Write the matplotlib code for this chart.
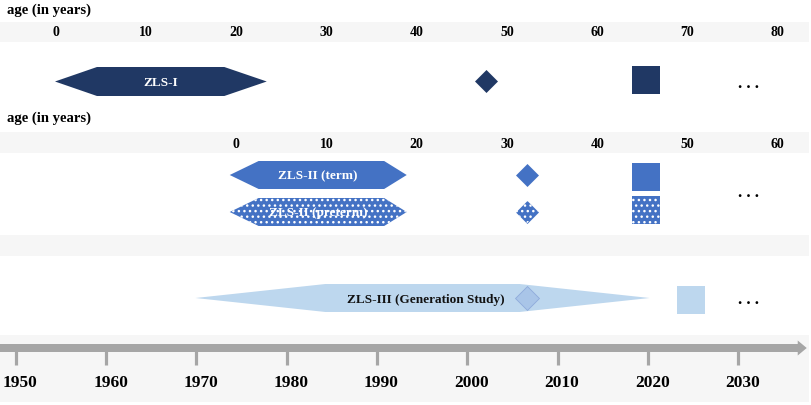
import matplotlib
matplotlib.use("Agg")
import matplotlib.pyplot as plt
from matplotlib.patches import Polygon, FancyArrow, Rectangle

plt.rcParams["font.family"] = ["Liberation Serif", "DejaVu Serif"]
plt.rcParams["hatch.color"] = "white"
plt.rcParams["hatch.linewidth"] = 1.0

# calendar axis
YEARS = [1950, 1960, 1970, 1980, 1990, 2000, 2010, 2020, 2030]

# age axes (age 0 = birth year of the cohort)
AGES_I = [0, 10, 20, 30, 40, 50, 60, 70, 80]
BIRTH_I = 1954.4
AGES_II = [0, 10, 20, 30, 40, 50, 60]
BIRTH_II = 1974.4

# cohort spans: (start, full start, full end, end) in calendar years
SPAN_I = (1954.35, 1959.0, 1973.1, 1977.8)
SPAN_II = (1973.7, 1976.9, 1990.8, 1993.3)
SPAN_III = (1969.9, 1984.3, 2005.8, 2020.2)

# follow-up waves
DIAMOND_YEARS = [2002.1, 2006.6, 2006.6, 2006.6]
SQUARE_YEARS = [2019.8, 2019.8, 2019.8, 2024.8]
MORE_YEAR = 2031.1

NAVY = "#203864"
BLUE = "#4472c4"
LIGHT = "#bdd7ee"
GREY = "#a6a6a6"
BAND = "#f6f6f6"

fig = plt.figure(figsize=(8.11, 4.06), dpi=100)
ax = fig.add_axes([0, 0, 1, 1])
ax.set_xlim(1948.26, 2038.07)
ax.set_ylim(406, 0)
ax.axis("off")

X0, X1 = 1948.26, 2038.07


def band(y0, y1):
    ax.add_patch(Rectangle((X0, y0), X1 - X0 - 0.2, y1 - y0, color=BAND, lw=0, zorder=0))


def hexagon(span, yc, color, half=14.5, **kw):
    a, b, c, d = span
    pts = [(a, yc), (b, yc - half), (c, yc - half), (d, yc), (c, yc + half), (b, yc + half)]
    p = Polygon(pts, closed=True, **kw)
    if "facecolor" not in kw and "fc" not in kw:
        p.set_facecolor(color)
    ax.add_patch(p)
    return p


def ellipsis(x, y):
    ax.text(x, y, ". . .", ha="center", va="baseline", fontsize=12, fontweight="bold", color="black")


# bands
band(23, 43)
band(133, 154)
band(236, 257)
band(336, 403)

# age headers
ax.text(1949.0, 10, "age (in years)", ha="left", va="center", fontsize=10.5, fontweight="bold")
ax.text(1949.0, 118, "age (in years)", ha="left", va="center", fontsize=10.5, fontweight="bold")
for a in AGES_I:
    ax.text(BIRTH_I + a, 33, str(a), ha="center", va="center", fontsize=10, fontweight="bold")
for a in AGES_II:
    ax.text(BIRTH_II + a, 145, str(a), ha="center", va="center", fontsize=10, fontweight="bold")

# ZLS-I
hexagon(SPAN_I, 82.5, NAVY, lw=0)
ax.text((SPAN_I[0] + SPAN_I[3]) / 2, 83, "ZLS-I", ha="center", va="center",
        color="white", fontsize=9.5, fontweight="bold")
ax.scatter([DIAMOND_YEARS[0]], [82], marker="D", s=11.7 ** 2, color=NAVY, lw=0, zorder=3)
ax.scatter([SQUARE_YEARS[0]], [81], marker="s", s=20 ** 2, color=NAVY, lw=0, zorder=3)
ellipsis(MORE_YEAR, 88.5)

# ZLS-II term
hexagon(SPAN_II, 176, BLUE, half=14, lw=0)
ax.text((SPAN_II[0] + SPAN_II[3]) / 2, 176.5, "ZLS-II (term)", ha="center", va="center",
        color="white", fontsize=9.5, fontweight="bold")
ax.scatter([DIAMOND_YEARS[1]], [176], marker="D", s=11.7 ** 2, color=BLUE, lw=0, zorder=3)
ax.scatter([SQUARE_YEARS[1]], [177.5], marker="s", s=20.5 ** 2, color=BLUE, lw=0, zorder=3)

# ZLS-II preterm (dotted)
hexagon(SPAN_II, 213, BLUE, half=14, lw=0, zorder=1)
ax.text((SPAN_II[0] + SPAN_II[3]) / 2, 213.5, "ZLS-II (preterm)", ha="center", va="center",
        color="white", fontsize=9.5, fontweight="bold", zorder=2)
hexagon(SPAN_II, 213, BLUE, half=14, facecolor="none", edgecolor="white", lw=0, hatch="...", zorder=3)
ax.scatter([DIAMOND_YEARS[2]], [213], marker="D", s=11.7 ** 2, color=BLUE, lw=0, zorder=3)
ax.scatter([SQUARE_YEARS[2]], [210.5], marker="s", s=20.5 ** 2, color=BLUE, lw=0, zorder=3)
ax.scatter([DIAMOND_YEARS[2], SQUARE_YEARS[2]], [213, 210.5], marker="D", s=0, lw=0)
for xm, ym, mk, sz in [(DIAMOND_YEARS[2], 213, "D", 11.7), (SQUARE_YEARS[2], 210.5, "s", 20.5)]:
    ax.scatter([xm], [ym], marker=mk, s=sz ** 2, facecolors="none", edgecolors="white",
               linewidths=0, hatch="...", zorder=4)
ellipsis(MORE_YEAR, 197.5)

# ZLS-III
hexagon(SPAN_III, 299, LIGHT, half=14, lw=0)
ax.text(1995.4, 300, "ZLS-III (Generation Study)", ha="center", va="center",
        color="#111111", fontsize=9.5, fontweight="bold")
ax.scatter([DIAMOND_YEARS[3]], [299], marker="D", s=12.2 ** 2, facecolors="#a9c5e8",
           edgecolors="#8eaadb", linewidths=0.6, zorder=3)
ax.scatter([SQUARE_YEARS[3]], [301], marker="s", s=19.8 ** 2, color=LIGHT, lw=0, zorder=3)
ellipsis(MORE_YEAR, 304.5)

# timeline arrow with decade ticks
ax.add_patch(FancyArrow(X0, 349, 2037.6 - X0, 0, width=8, head_width=15, head_length=1.0,
                        length_includes_head=True, color=GREY, lw=0, zorder=2))
ax.vlines(YEARS, 352, 366, colors=GREY, lw=2.3, zorder=2)
for yr in YEARS:
    ax.text(yr + 0.5, 383, str(yr), ha="center", va="center", fontsize=12.5, fontweight="bold")

fig.savefig("out.png", dpi=100)
